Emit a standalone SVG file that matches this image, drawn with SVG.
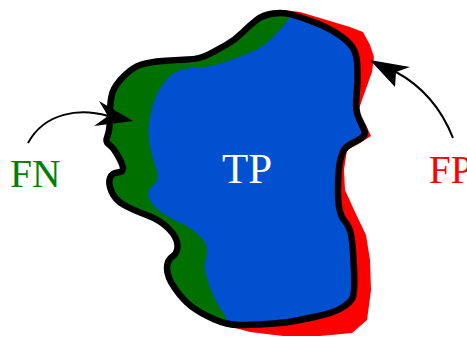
<svg xmlns="http://www.w3.org/2000/svg" width="467" height="338" viewBox="0 0 467 338">
<style>
.lbl{font-family:"Liberation Serif","Times New Roman",serif}
.conn{fill:none;stroke:#000;stroke-width:2}
.head{fill:#000;stroke:none}
.gt{fill:none;stroke:#000;stroke-width:6.5;stroke-linejoin:round}
</style>
<defs>
<path id="outline" d="M124,76 Q133,67 141.5,64.5 Q150,62 162.5,61 Q175,60 187.5,59.5 Q200,59 208.5,54.5 Q217,50 226,45 Q235,40 242.5,32.5 Q250,25 256.5,20 Q263,15 273,13.5 Q283,12 291.5,14.5 Q300,17 313.5,22 Q327,27 337,33.5 Q347,40 352,46.5 Q357,53 357.5,68 Q358,83 356.5,96.5 Q355,110 359,118.5 Q363,127 364.5,131 Q366,135 361.5,138 Q357,141 350,144.5 Q343,148 340.5,159 Q338,170 338,191.5 Q338,213 344,220 Q350,227 351.5,237 Q353,247 354,270 Q355,293 352.5,298 Q350,303 341.5,308 Q333,313 316.5,316.5 Q300,320 291.5,321.5 Q283,323 266.5,324 Q250,325 238.5,325 Q227,325 213.5,319 Q200,313 191.5,306.5 Q183,300 175,288.5 Q167,277 167,268.5 Q167,260 172.5,256.5 Q178,253 177.5,245 Q177,237 168.5,228.5 Q160,220 146.5,215 Q133,210 124,205 Q115,200 111.5,191.5 Q108,183 110,178 Q112,173 117.5,172.5 Q123,172 123,168.5 Q123,165 118,156 Q113,147 109,144.5 Q105,142 107.5,136 Q110,130 110,115 Q110,100 112.5,92.5 Q115,85 124,76 Z"/>
</defs>
<rect width="467" height="338" fill="#fff"/>
<g id="regions">
<g id="fp-region">
<path fill="#ff0000" d="M283,10 L300,12 L330,21 L350,27 L363,32 L370,45 L374,57 L372,72 L362,100 L358,112 L366,125 L371,136 L360,143 L347,150 L344,170 L345,190 L355,212 L366,235 L370,260 L371,290 L367,320 L352,333 L320,336 L283,336 L250,332 L235,328 L240,300 L300,100 Z"/>
</g>
<g id="fn-region">
<use href="#outline" fill="#007000"/>
</g>
<g id="tp-region">
<path fill="#0050d0" d="M291.5,14.5 Q300,17 313.5,22 Q327,27 337,33.5 Q347,40 352,46.5 Q357,53 357.5,68 Q358,83 356.5,96.5 Q355,110 359,118.5 Q363,127 364.5,131 Q366,135 361.5,138 Q357,141 350,144.5 Q343,148 340.5,159 Q338,170 338,191.5 Q338,213 344,220 Q350,227 351.5,237 Q353,247 354,270 Q355,293 352.5,298 Q350,303 341.5,308 Q333,313 316.5,316.5 Q300,320 291.5,321.5 Q283,323 266.5,324 Q250,325 238.5,325 L230,324 L221.5,310.5 Q213,297 208,282 Q203,267 205,262 Q207,257 207,250 Q207,243 198.5,235 Q190,227 178.5,222 Q167,217 158.5,210 Q150,203 148.5,196.5 Q147,190 153.5,185 Q160,180 156.5,170 Q153,160 150,146.5 Q147,133 150,116.5 Q153,100 160,88.5 Q167,77 175,72.5 Q183,68 196.5,67.5 Q210,67 225,62 Q240,57 251.5,52 Q263,47 271.5,38.5 Q280,30 286.5,22 Z"/>
</g>
<g id="ground-truth">
<use href="#outline" class="gt"/>
</g>
</g>
<g id="labels">
<text id="FN" class="lbl" x="10" y="187" font-size="39.5" fill="#008000">FN</text>
<text id="TP" class="lbl" x="222" y="183" font-size="43" fill="#ffffff">TP</text>
<text id="FP" class="lbl" x="429" y="183" font-size="39" fill="#ff0000">FP</text>
</g>
<g id="connectors">
<path class="conn" d="M28,143 C45,112 80,108 108,116"/>
<path class="head" d="M133,121 L99,101 L108,116 L94,126 Z"/>
<path class="conn" d="M453,138 C440,105 420,85 396,72"/>
<path class="head" d="M370,60 L410,67 L396,72 L395,87 Z"/>
</g>
</svg>
